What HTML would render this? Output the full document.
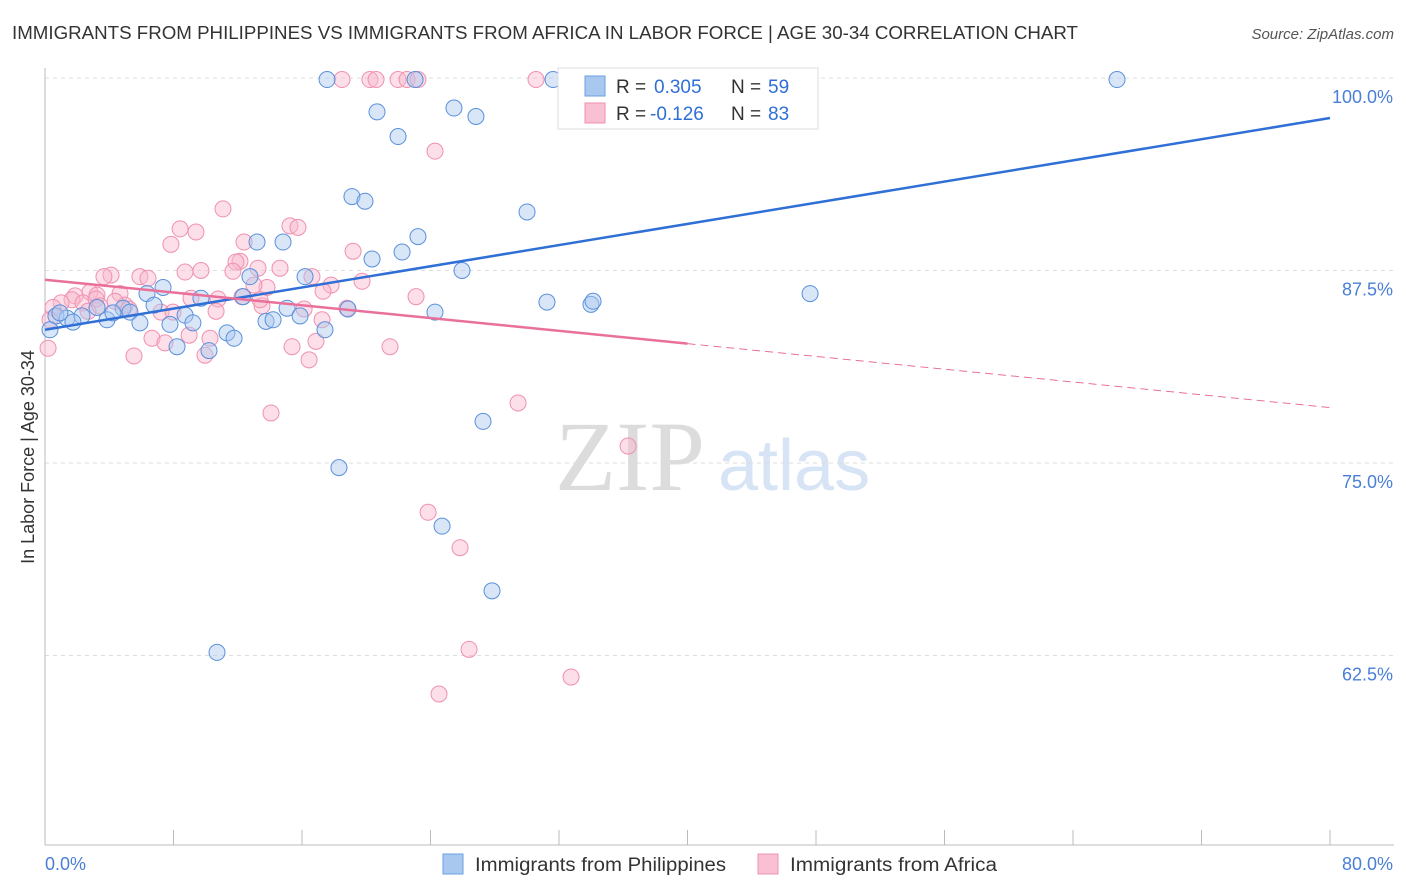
<!DOCTYPE html>
<html><head><meta charset="utf-8"><style>
body{margin:0;background:#fff;font-family:"Liberation Sans",sans-serif;}
svg{display:block}
</style></head><body>
<svg id="chart" width="1406" height="892">
<text x="12" y="39" font-size="18" fill="#333" textLength="1066" lengthAdjust="spacingAndGlyphs">IMMIGRANTS FROM PHILIPPINES VS IMMIGRANTS FROM AFRICA IN LABOR FORCE | AGE 30-34 CORRELATION CHART</text>
<text x="1394" y="39" font-size="15" fill="#555" font-style="italic" text-anchor="end">Source: ZipAtlas.com</text>
<g>
<text x="555" y="490" font-size="100" fill="#dcdcdc" font-family="Liberation Serif,serif">ZIP</text>
<text x="718" y="490" font-size="72" fill="#d6e4f5">atlas</text>
</g>
<g id="grid"></g><g id="axes"></g><g id="pts"></g><g id="lines"></g>
<text x="34" y="457" font-size="18" fill="#333" text-anchor="middle" transform="rotate(-90 34 457)">In Labor Force | Age 30-34</text>
<text x="45" y="870" font-size="18" fill="#4a7fd6">0.0%</text>
<text x="1393" y="870" font-size="18" fill="#4a7fd6" text-anchor="end">80.0%</text>
<g>
<rect x="558" y="68" width="260" height="61" fill="#fff" stroke="#ddd"/>
<rect x="585" y="76" width="20" height="20" fill="#a8c8f0" stroke="#6a9fe0"/>
<rect x="585" y="103" width="20" height="20" fill="#f8c0d2" stroke="#f090b0"/>
<text x="616" y="93" font-size="19" fill="#333">R =</text>
<text x="654" y="93" font-size="19" fill="#2f6fd6">0.305</text>
<text x="731" y="93" font-size="19" fill="#333">N =</text>
<text x="768" y="93" font-size="19" fill="#2f6fd6">59</text>
<text x="616" y="120" font-size="19" fill="#333">R =</text>
<text x="650" y="120" font-size="19" fill="#2f6fd6">-0.126</text>
<text x="731" y="120" font-size="19" fill="#333">N =</text>
<text x="768" y="120" font-size="19" fill="#2f6fd6">83</text>
</g>
<g>
<rect x="443" y="854" width="20" height="20" fill="#a8c8f0" stroke="#6a9fe0"/>
<text x="475" y="871" font-size="19" fill="#333" textLength="251" lengthAdjust="spacingAndGlyphs">Immigrants from Philippines</text>
<rect x="758" y="854" width="20" height="20" fill="#f8c0d2" stroke="#f090b0"/>
<text x="790" y="871" font-size="19" fill="#333" textLength="207" lengthAdjust="spacingAndGlyphs">Immigrants from Africa</text>
</g>
</svg>
<script>
const yTicks=[100,87.5,75,62.5];
const yTickLabels=["100.0%","87.5%","75.0%","62.5%"];
const xTicks=[0,8,16,24,32,40,48,56,64,72,80];
const blueX=[17.56,31.63,23.04,66.74,20.67,25.46,26.83,21.98,19.11,19.92,30.01,23.22,13.2,14.82,22.23,20.36,25.96,16.19,12.76,7.35,6.35,47.63,12.33,9.71,31.25,33.99,34.12,6.79,3.24,4.86,18.86,15.07,5.29,8.72,15.88,24.28,0.68,1.37,2.3,3.86,5.91,7.78,9.21,13.76,14.2,17.43,11.33,11.77,8.22,10.21,0.31,27.27,18.3,24.72,27.83,10.71,0.93,4.23,1.74];
const blueY=[99.9,99.9,99.9,99.9,97.8,98.05,97.5,96.2,92.3,92.0,91.3,89.7,89.35,89.35,88.7,88.25,87.5,87.1,87.1,86.4,86.0,86.0,85.8,85.7,85.45,85.3,85.5,85.25,85.1,85.05,85.0,85.05,84.8,84.6,84.55,84.8,84.55,84.4,84.55,84.3,84.1,84.0,84.1,84.2,84.3,83.65,83.45,83.1,82.55,82.3,83.65,77.7,74.7,70.9,66.7,62.7,84.75,84.75,84.15];
const pinkX=[18.49,20.23,20.61,21.98,22.54,23.22,30.57,33.37,24.28,11.08,8.41,9.4,15.25,15.75,7.84,12.39,19.18,12.14,11.89,9.71,8.72,11.7,13.26,14.63,4.11,3.67,5.91,6.41,16.62,19.74,13.82,17.81,17.31,2.8,1.87,1.68,3.24,4.67,9.09,10.77,12.27,1.0,0.5,2.37,4.98,5.23,7.22,7.97,10.65,16.13,13.51,18.8,23.1,2.68,0.31,0.19,6.66,8.97,10.27,7.47,15.38,16.87,17.25,21.48,9.96,5.54,16.44,14.07,29.45,36.3,23.85,25.84,26.4,24.53,32.75,3.18,4.36,13.01,3.42,13.39];
const pinkY=[99.9,99.9,99.9,99.9,99.9,99.9,99.9,99.9,95.25,91.5,90.2,90.0,90.4,90.3,89.2,89.35,88.75,88.1,88.05,87.5,87.4,87.45,87.65,87.65,87.2,87.1,87.1,87.0,87.1,86.8,86.4,86.55,86.15,86.1,85.85,85.6,85.9,86.0,85.7,85.65,85.8,85.4,85.1,85.4,85.25,85.0,84.8,84.8,84.85,85.0,85.2,85.05,85.8,84.85,84.3,82.45,83.1,83.3,83.1,82.8,82.55,82.9,84.3,82.55,82.0,81.95,81.7,78.25,78.9,76.1,71.8,69.5,62.9,60.0,61.1,85.65,85.5,86.55,85.2,85.6];
const blueTrend=[83.65,97.4];
const pinkTrend=[86.9,78.6];
const pinkSolidEnd=40;
const NS="http://www.w3.org/2000/svg";
const X=v=>45+v/80*1285;
const Y=v=>78+(100-v)/12.5*192.5;
function mk(tag,at,parent){const e=document.createElementNS(NS,tag);for(const k in at)e.setAttribute(k,at[k]);document.getElementById(parent).appendChild(e);return e;}
yTicks.forEach((t,i)=>{
 const l=mk('line',{x1:45,x2:1394,y1:Y(t),y2:Y(t),stroke:'#ddd','stroke-dasharray':'4,4'},'grid');
 
 
 const tx=mk('text',{x:1393,y:Y(t)+25,'font-size':18,fill:'#4a7fd6','text-anchor':'end'},'grid');
 tx.textContent=yTickLabels[i];
 
 
});
const ax=mk('line',{x1:45,x2:1394,y1:845,y2:845,stroke:'#bbb'},'axes');


const ay=mk('line',{x1:45,x2:45,y1:68,y2:845,stroke:'#bbb'},'axes');


xTicks.forEach(t=>{
 const l=mk('line',{x1:X(t),x2:X(t),y1:830,y2:845,stroke:'#bbb'},'axes');
 
 
});
function pts(xs,ys,fill,stroke,name){
 xs.forEach((x,i)=>{
  const c=mk('circle',{cx:X(x),cy:Y(ys[i]),r:8,fill:fill,'fill-opacity':0.45,stroke:stroke,'stroke-width':1},'pts');
  
  
 });
}
pts(pinkX,pinkY,'#f8b8cc','#f090b0','africa-point');
pts(blueX,blueY,'#a8c8f0','#5a90dc','philippines-point');
const bl=mk('line',{x1:X(0),y1:Y(blueTrend[0]),x2:X(80),y2:Y(blueTrend[1]),stroke:'#2f6fd6','stroke-width':2.5},'lines');


const pm=pinkTrend[0]+(pinkTrend[1]-pinkTrend[0])*pinkSolidEnd/80;
const pl=mk('line',{x1:X(0),y1:Y(pinkTrend[0]),x2:X(pinkSolidEnd),y2:Y(pm),stroke:'#e8709a','stroke-width':2.5},'lines');


const pd=mk('line',{x1:X(pinkSolidEnd),y1:Y(pm),x2:X(80),y2:Y(pinkTrend[1]),stroke:'#e8709a','stroke-width':1,'stroke-dasharray':'8,5'},'lines');


</script>
</body></html>
